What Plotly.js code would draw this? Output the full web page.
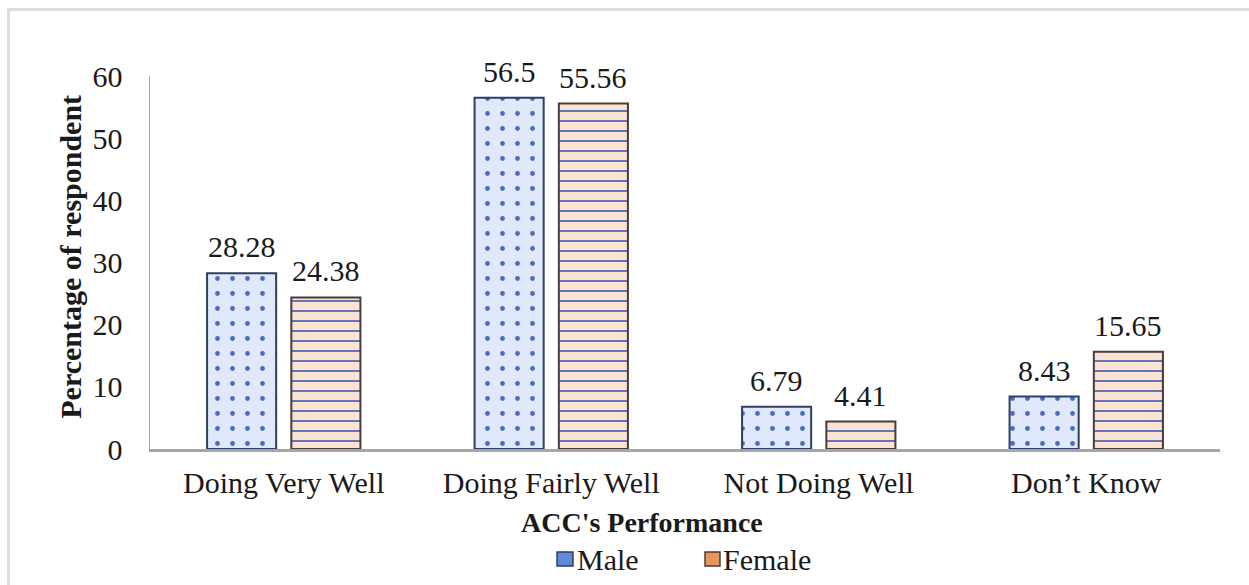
<!DOCTYPE html>
<html>
<head>
<meta charset="utf-8">
<script src="https://cdn.plot.ly/plotly-3.0.1.min.js"></script>
<style>
  html, body { margin: 0; padding: 0; background: #ffffff; }
  #frame { position: absolute; left: 7px; top: 8px; width: 1260px; height: 600px;
           border-top: 3px solid #dcdcdc; border-left: 3px solid #dcdcdc; }
  #chart { position: absolute; left: 0; top: 0; width: 1249px; height: 585px; }
</style>
</head>
<body>
<div id="frame"></div>
<div id="chart"></div>
<script>
const categories = ["Doing Very Well", "Doing Fairly Well", "Not Doing Well", "Don\u2019t Know"];
const maleValues = [28.28, 56.5, 6.79, 8.43];
const femaleValues = [24.38, 55.56, 4.41, 15.65];
const seriesNames = ["Male", "Female"];
const yTickValues = [0, 10, 20, 30, 40, 50, 60];

const serif = "Liberation Serif, Times New Roman, serif";
const maleFill = "#dfe9fa", femaleFill = "#fbe3d3";

const traces = [
  {
    type: "bar",
    name: seriesNames[0],
    x: categories,
    y: maleValues,
    marker: {
      color: maleFill,
      line: { color: "#2e3e66", width: 2 },
      pattern: { shape: ".", fgcolor: "#4a6cc0", bgcolor: maleFill, size: 15, solidity: 0.08, fillmode: "replace" }
    },
    hoverinfo: "x+y"
  },
  {
    type: "bar",
    name: seriesNames[1],
    x: categories,
    y: femaleValues,
    marker: {
      color: femaleFill,
      line: { color: "#4a3c38", width: 2 },
      pattern: { shape: "-", fgcolor: "#4f66b6", bgcolor: femaleFill, size: 10, solidity: 0.18, fillmode: "replace" }
    },
    hoverinfo: "x+y"
  }
];

// value labels placed through the axes' scales (group offset in px)
const labelAnn = [];
const groupOffsetPx = 42;
[maleValues, femaleValues].forEach(function (vals, si) {
  vals.forEach(function (v, i) {
    labelAnn.push({
      xref: "x", yref: "y", x: categories[i], y: v,
      text: String(v), showarrow: false,
      xanchor: "center", yanchor: "bottom",
      xshift: si === 0 ? -groupOffsetPx : groupOffsetPx, yshift: 8,
      font: { family: serif, size: 30, color: "#1a1a1a" }
    });
  });
});

// legend drawn as swatches + text
const legendShapes = [
  { type: "rect", xref: "paper", yref: "paper", x0: 0.3804, x1: 0.3953, y0: -0.276, y1: -0.314,
    fillcolor: "#6189d6", line: { color: "#2e3e66", width: 1.5 } },
  { type: "rect", xref: "paper", yref: "paper", x0: 0.5187, x1: 0.5327, y0: -0.276, y1: -0.314,
    fillcolor: "#e8955e", line: { color: "#4a3c38", width: 1.5 } }
];
const legendAnn = [
  { xref: "paper", yref: "paper", x: 0.397, y: -0.296, xanchor: "left", yanchor: "middle",
    text: seriesNames[0], showarrow: false, font: { family: serif, size: 30, color: "#1a1a1a" } },
  { xref: "paper", yref: "paper", x: 0.534, y: -0.296, xanchor: "left", yanchor: "middle",
    text: seriesNames[1], showarrow: false, font: { family: serif, size: 30, color: "#1a1a1a" } }
];

const layout = {
  width: 1249,
  height: 585,
  margin: { l: 150, r: 29, t: 76, b: 136, autoexpand: false },
  paper_bgcolor: "rgba(0,0,0,0)",
  plot_bgcolor: "rgba(0,0,0,0)",
  font: { family: serif, size: 30, color: "#1a1a1a" },
  barmode: "group",
  bargap: 0.37,
  bargroupgap: 0.18,
  showlegend: false,
  xaxis: {
    type: "category",
    range: [-0.5, 3.5],
    showline: true,
    linecolor: "#a6a6a6",
    linewidth: 3,
    ticks: "",
    showgrid: false,
    zeroline: false,
    automargin: false,
    tickfont: { family: serif, size: 30, color: "#1a1a1a" },
    ticklabelstandoff: 5
  },
  yaxis: {
    range: [0, 60],
    tickvals: yTickValues,
    ticktext: yTickValues.map(String),
    showline: true,
    linecolor: "#a6a6a6",
    linewidth: 1.5,
    ticks: "",
    showgrid: false,
    zeroline: false,
    automargin: false,
    tickfont: { family: serif, size: 30, color: "#1a1a1a" },
    ticklabelstandoff: 20
  },
  shapes: legendShapes,
  annotations: labelAnn.concat(legendAnn, [
    {
      text: "<b>ACC's Performance</b>",
      xref: "paper", yref: "paper",
      x: 0.46, y: -0.198,
      xanchor: "center", yanchor: "middle",
      showarrow: false,
      font: { family: serif, size: 28, color: "#1a1a1a" }
    },
    {
      text: "<b>Percentage of respondent</b>",
      xref: "paper", yref: "paper",
      x: -0.074, y: 0.515,
      xanchor: "center", yanchor: "middle",
      textangle: -90,
      showarrow: false,
      font: { family: serif, size: 30, color: "#1a1a1a" }
    }
  ])
};

Plotly.newPlot("chart", traces, layout, { displayModeBar: false, staticPlot: true });
</script>
</body>
</html>
